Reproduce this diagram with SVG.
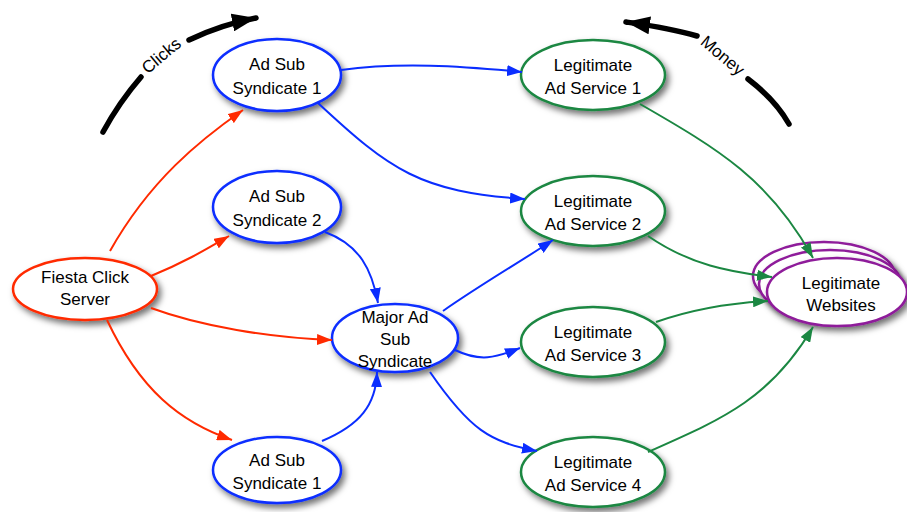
<svg xmlns="http://www.w3.org/2000/svg" width="907" height="512" viewBox="0 0 907 512">
<defs>
<filter id="sh" x="-20%" y="-20%" width="150%" height="160%">
<feDropShadow dx="3" dy="4" stdDeviation="3" flood-color="#000" flood-opacity="0.55"/>
</filter>
<marker id="ared" viewBox="0 0 10 10" refX="10" refY="5" markerWidth="15" markerHeight="11" orient="auto" markerUnits="userSpaceOnUse" preserveAspectRatio="none"><path d="M0,0 L10,5 L0,10 z" fill="#ff2a00"/></marker>
<marker id="ablue" viewBox="0 0 10 10" refX="10" refY="5" markerWidth="15" markerHeight="11" orient="auto" markerUnits="userSpaceOnUse" preserveAspectRatio="none"><path d="M0,0 L10,5 L0,10 z" fill="#0a2dff"/></marker>
<marker id="agreen" viewBox="0 0 10 10" refX="10" refY="5" markerWidth="15" markerHeight="11" orient="auto" markerUnits="userSpaceOnUse" preserveAspectRatio="none"><path d="M0,0 L10,5 L0,10 z" fill="#1b8742"/></marker>
<marker id="ablack" viewBox="0 0 10 10" refX="10" refY="5" markerWidth="24" markerHeight="18" orient="auto" markerUnits="userSpaceOnUse" preserveAspectRatio="none"><path d="M0,0 L10,5 L0,10 z" fill="#000"/></marker>
</defs>
<style>
.n{fill:#fff;stroke-width:2.5;filter:url(#sh)}
.red{stroke:#ff2a00}.blue{stroke:#0a2dff}.green{stroke:#1b8742}.purple{stroke:#8e1a9a}
.t{font-family:"Liberation Sans",Arial,sans-serif;font-size:17px;fill:#000;text-anchor:middle}
.c{fill:none;stroke-width:2}
.cr{stroke:#ff2a00;marker-end:url(#ared)}
.cb{stroke:#0a2dff;marker-end:url(#ablue)}
.cg{stroke:#1b8742;marker-end:url(#agreen)}
.bk{fill:none;stroke:#000;stroke-width:5.5;stroke-linecap:round}
</style>
<rect width="907" height="512" fill="#fff"/>

<g id="clicks">
<path class="bk" d="M103,132 C115,110 128,92 141,77"/>
<path class="bk" d="M189,40 C210,30 235,22 256,18" marker-end="url(#ablack)"/>
<text class="t" transform="translate(165,60) rotate(-40)">Clicks</text>
</g>
<g id="money">
<path class="bk" d="M697,36 C670,28 640,24 626,22" marker-end="url(#ablack)"/>
<path class="bk" d="M748,79 C765,92 780,108 789,124"/>
<text class="t" transform="translate(719,60) rotate(40)">Money</text>
</g>

<g id="fiesta">
<ellipse class="n red" cx="85" cy="289" rx="72" ry="31"/>
<text class="t" x="85" y="283">Fiesta Click</text>
<text class="t" x="85" y="305">Server</text>
</g>
<g id="adsub1top">
<ellipse class="n blue" cx="277" cy="75" rx="64" ry="36"/>
<text class="t" x="277" y="70">Ad Sub</text>
<text class="t" x="277" y="94">Syndicate 1</text>
</g>
<g id="adsub2">
<ellipse class="n blue" cx="277" cy="207" rx="64" ry="36"/>
<text class="t" x="277" y="202">Ad Sub</text>
<text class="t" x="277" y="226">Syndicate 2</text>
</g>
<g id="adsub1bottom">
<ellipse class="n blue" cx="277" cy="470" rx="64" ry="33"/>
<text class="t" x="277" y="466">Ad Sub</text>
<text class="t" x="277" y="489">Syndicate 1</text>
</g>
<g id="major">
<ellipse class="n blue" cx="395" cy="338" rx="63" ry="34"/>
<text class="t" x="395" y="323">Major Ad</text>
<text class="t" x="395" y="345">Sub</text>
<text class="t" x="395" y="367">Syndicate</text>
</g>
<g id="las1">
<ellipse class="n green" cx="593" cy="75" rx="72" ry="35"/>
<text class="t" x="593" y="71">Legitimate</text>
<text class="t" x="593" y="94">Ad Service 1</text>
</g>
<g id="las2">
<ellipse class="n green" cx="593" cy="211" rx="72" ry="35"/>
<text class="t" x="593" y="207">Legitimate</text>
<text class="t" x="593" y="230">Ad Service 2</text>
</g>
<g id="las3">
<ellipse class="n green" cx="593" cy="342" rx="72" ry="35"/>
<text class="t" x="593" y="338">Legitimate</text>
<text class="t" x="593" y="361">Ad Service 3</text>
</g>
<g id="las4">
<ellipse class="n green" cx="593" cy="472" rx="72" ry="35"/>
<text class="t" x="593" y="468">Legitimate</text>
<text class="t" x="593" y="491">Ad Service 4</text>
</g>
<g id="websites">
<ellipse class="n purple" cx="824" cy="276" rx="71" ry="34"/>
<ellipse class="n purple" cx="830" cy="284" rx="71" ry="34"/>
<ellipse class="n purple" cx="837" cy="292" rx="70" ry="34"/>
<text class="t" x="841" y="289">Legitimate</text>
<text class="t" x="841" y="311">Websites</text>
</g>

<g id="connectors">
<path class="c cr" d="M110,251 C150,180 200,140 243,110"/>
<path class="c cr" d="M151,276 C185,262 205,250 229,236"/>
<path class="c cr" d="M151,308 C200,326 270,338 332,340"/>
<path class="c cr" d="M107,320 C140,390 180,422 232,440"/>
<path class="c cb" d="M341,70 C400,62 460,66 522,72"/>
<path class="c cb" d="M318,103 C390,170 420,192 525,199"/>
<path class="c cb" d="M325,232 C360,245 372,270 378,303"/>
<path class="c cb" d="M322,441 C360,425 376,405 377,372"/>
<path class="c cb" d="M443,311 C480,285 520,262 553,240"/>
<path class="c cb" d="M455,350 C480,362 495,358 520,348"/>
<path class="c cb" d="M430,372 C470,430 490,442 537,451"/>
<path class="c cg" d="M640,104 C720,150 770,180 813,258"/>
<path class="c cg" d="M648,236 C690,265 730,272 772,277"/>
<path class="c cg" d="M656,322 C690,310 730,303 768,301"/>
<path class="c cg" d="M648,452 C720,420 770,400 813,327"/>
</g>
</svg>
